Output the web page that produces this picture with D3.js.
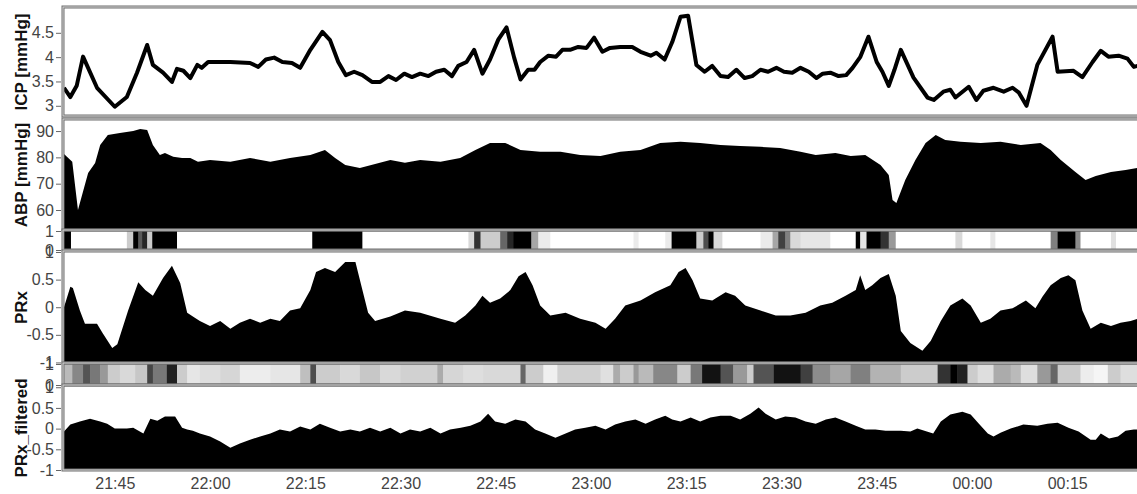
<!DOCTYPE html>
<html lang="en">
<head>
    <meta charset="UTF-8">
    <title>ICP ABP PRx</title>
    <script src="https://cdn.jsdelivr.net/npm/d3@7"></script>
    <style>
        body { margin: 0; background: #fff; }
        text { font-family: "Liberation Sans", Arial, sans-serif; }
    </style>
</head>
<body>
<script type="text/javascript">
    // canvas size
    var width = 1137;
    var height = 494;

    // times are minutes after 21:37
    var icpT = [0, 1.0, 2.0, 3.0, 5.2, 8.0, 9.9, 11.5, 13.1, 14.0, 15.6, 17.0, 17.8, 18.8, 19.9, 21.0, 21.7, 22.7, 26.2, 29.3,
        30.6, 31.8, 33.1, 34.4, 35.9, 37.2, 38.8, 40.7, 41.9, 43.2, 44.4, 45.7, 47.0, 48.5, 49.8, 51.1, 52.3, 53.6, 54.8, 56.1,
        57.4, 58.6, 59.9, 61.1, 62.1, 63.4, 64.6, 65.9, 67.1, 68.4, 69.7, 70.9, 71.9, 73.1, 74.1, 75.0, 76.3, 77.5, 78.5, 79.7,
        81.0, 82.3, 83.5, 84.8, 86.0, 87.6, 89.5, 90.8, 92.4, 93.3, 94.6, 95.8, 97.1, 98.3, 99.6, 100.9, 102.1, 103.4, 104.6, 105.9,
        107.2, 108.4, 109.7, 110.9, 112.2, 113.4, 114.7, 116.0, 117.3, 118.5, 119.5, 120.7, 122.0, 123.2, 124.2, 125.4, 126.7, 128.0, 128.9, 129.9,
        130.8, 131.8, 133.8, 136.0, 137.0, 138.5, 139.6, 140.4, 142.5, 143.7, 144.8, 146.4, 148.0, 149.4, 150.4, 151.6, 153.3, 155.7, 156.5, 159.0,
        160.4, 162.0, 163.3, 164.5, 166.1, 167.5, 168.5, 169.1];
    var icpV = [3.37, 3.18, 3.41, 4.01, 3.37, 2.98, 3.18, 3.68, 4.25, 3.84, 3.68, 3.49, 3.76, 3.72, 3.57, 3.84, 3.78, 3.90, 3.90, 3.88,
        3.80, 3.95, 3.99, 3.90, 3.88, 3.78, 4.15, 4.52, 4.35, 3.90, 3.63, 3.70, 3.63, 3.49, 3.49, 3.61, 3.53, 3.66, 3.59, 3.66,
        3.61, 3.70, 3.74, 3.61, 3.82, 3.90, 4.15, 3.66, 3.95, 4.36, 4.61, 3.99, 3.54, 3.74, 3.74, 3.90, 4.03, 4.01, 4.15, 4.15,
        4.21, 4.19, 4.40, 4.11, 4.19, 4.21, 4.21, 4.11, 4.03, 4.09, 3.95, 4.31, 4.83, 4.85, 3.84, 3.70, 3.82, 3.61, 3.59, 3.74,
        3.57, 3.61, 3.74, 3.70, 3.78, 3.70, 3.68, 3.78, 3.70, 3.57, 3.66, 3.68, 3.61, 3.63, 3.78, 4.00, 4.42, 3.90, 3.70, 3.41,
        3.74, 4.15, 3.58, 3.17, 3.12, 3.29, 3.33, 3.17, 3.39, 3.12, 3.31, 3.37, 3.29, 3.37, 3.27, 3.00, 3.84, 4.42, 3.70, 3.72,
        3.59, 3.90, 4.13, 4.01, 4.03, 3.97, 3.80, 3.82];

    var abpT = [0, 1.3, 2.2, 3.8, 4.9, 5.7, 6.9, 8.8, 10.9, 12.0, 13.1, 14.0, 15.1, 15.9, 17.2, 18.6, 19.9, 21.1, 23.0, 26.2,
        29.3, 32.5, 35.6, 38.8, 41.1, 42.7, 44.3, 46.6, 49.0, 51.4, 53.7, 56.1, 59.3, 62.4, 64.8, 67.1, 69.5, 71.9, 75.0, 78.2,
        81.3, 84.5, 87.6, 90.8, 93.9, 97.1, 100.2, 103.4, 106.5, 109.7, 112.8, 116.0, 118.4, 121.5, 123.9, 126.2, 128.6, 129.9, 130.5, 131.1,
        132.5, 134.1, 135.7, 137.3, 138.8, 141.2, 144.4, 147.5, 150.7, 153.8, 155.4, 157.0, 159.3, 160.9, 162.5, 164.9, 167.2, 169.1];
    var abpV = [81.3, 78.3, 60.0, 74.1, 77.9, 84.7, 88.5, 89.3, 90.0, 90.8, 90.4, 84.7, 80.9, 81.7, 80.2, 79.8, 79.8, 78.3, 79.0, 78.3,
        79.8, 78.3, 79.8, 80.9, 82.8, 79.8, 77.1, 76.0, 77.5, 79.0, 78.0, 79.0, 78.3, 79.8, 82.8, 85.5, 85.5, 82.8, 82.1, 82.1,
        80.9, 80.5, 82.1, 82.8, 85.5, 85.9, 85.5, 84.7, 84.3, 84.0, 83.6, 82.1, 80.9, 81.7, 80.5, 80.9, 77.1, 73.3, 63.8, 62.7,
        71.4, 79.0, 85.5, 88.5, 86.6, 85.9, 85.5, 85.9, 84.7, 85.5, 82.8, 79.0, 74.4, 71.4, 72.9, 74.4, 75.2, 76.0];

    var prxT = [0, 1.0, 1.4, 2.5, 3.3, 4.1, 5.2, 6.1, 7.6, 8.4, 10.1, 11.7, 12.8, 14.0, 15.6, 17.0, 18.3, 19.4, 20.6, 21.4,
        23.0, 24.6, 26.2, 27.7, 29.3, 30.9, 32.5, 34.0, 35.6, 37.2, 38.8, 39.7, 41.1, 42.7, 44.3, 45.9, 47.0, 47.9, 49.0, 51.4,
        53.7, 56.1, 59.3, 61.6, 63.2, 64.8, 65.9, 67.1, 68.7, 70.3, 71.6, 72.7, 73.8, 75.0, 76.6, 79.0, 81.3, 83.7, 85.3, 86.8,
        88.4, 90.8, 93.1, 95.5, 96.8, 97.9, 99.0, 100.2, 102.1, 104.2, 105.7, 107.3, 109.7, 112.1, 114.4, 116.8, 119.1, 121.0, 123.1, 124.7,
        125.4, 126.2, 127.3, 128.6, 129.9, 131.0, 131.8, 133.3, 135.2, 136.5, 138.1, 139.6, 141.5, 142.8, 144.4, 145.9, 147.5, 149.4, 151.5, 153.0,
        154.1, 155.4, 157.0, 158.2, 159.3, 160.4, 161.7, 163.3, 164.9, 166.4, 168.0, 169.1];
    var prxV = [0.0, 0.37, 0.35, -0.06, -0.30, -0.30, -0.30, -0.47, -0.74, -0.67, -0.06, 0.45, 0.31, 0.21, 0.53, 0.75, 0.44, -0.10, -0.19, -0.25,
        -0.34, -0.25, -0.39, -0.28, -0.21, -0.28, -0.21, -0.25, -0.06, -0.02, 0.31, 0.64, 0.71, 0.64, 0.82, 0.82, 0.31, -0.10, -0.25, -0.17,
        -0.06, -0.10, -0.21, -0.28, -0.15, 0.03, 0.21, 0.08, 0.16, 0.31, 0.56, 0.64, 0.40, 0.03, -0.15, -0.10, -0.21, -0.28, -0.39, -0.21,
        0.03, 0.12, 0.27, 0.40, 0.64, 0.71, 0.49, 0.16, 0.12, 0.27, 0.21, 0.03, -0.06, -0.15, -0.15, -0.10, 0.03, 0.08, 0.21, 0.31,
        0.58, 0.31, 0.40, 0.53, 0.60, 0.21, -0.43, -0.65, -0.79, -0.61, -0.25, 0.03, 0.16, 0.03, -0.28, -0.21, -0.06, -0.02, 0.12, -0.02,
        0.19, 0.40, 0.53, 0.58, 0.49, -0.06, -0.39, -0.28, -0.34, -0.28, -0.25, -0.21];

    var prxfT = [0, 1.0, 2.5, 4.1, 5.7, 6.8, 8.0, 9.9, 10.9, 12.5, 13.6, 14.7, 15.9, 17.5, 18.6, 19.4, 20.3, 21.4, 23.0, 24.6,
        26.2, 27.7, 29.3, 30.9, 32.5, 34.0, 35.6, 37.2, 38.8, 40.3, 41.9, 43.5, 45.1, 46.6, 48.2, 49.8, 51.4, 53.0, 54.5, 56.1,
        57.7, 59.3, 60.8, 62.5, 64.0, 65.6, 66.8, 67.9, 69.5, 71.1, 72.7, 74.2, 75.8, 77.4, 79.0, 80.5, 82.1, 83.7, 85.3, 86.8,
        88.4, 90.0, 91.6, 93.1, 94.7, 95.8, 97.1, 98.7, 100.2, 101.8, 103.4, 105.0, 106.5, 108.1, 109.4, 110.5, 112.1, 113.6, 115.2, 116.8,
        118.4, 120.0, 121.5, 123.1, 124.7, 126.2, 127.8, 129.4, 131.8, 133.3, 134.4, 136.9, 138.1, 139.6, 141.5, 142.8, 144.1, 145.5, 146.4, 147.5,
        149.1, 151.1, 153.3, 154.9, 156.5, 158.2, 159.8, 161.7, 162.5, 163.3, 164.6, 166.0, 167.2, 168.5, 169.1];
    var prxfV = [-0.07, 0.10, 0.17, 0.24, 0.17, 0.12, 0.0, 0.0, 0.02, -0.12, 0.24, 0.19, 0.29, 0.29, 0.02, -0.02, -0.05, -0.12, -0.19, -0.31,
        -0.46, -0.36, -0.27, -0.19, -0.12, -0.02, -0.07, 0.05, -0.02, 0.12, 0.02, -0.07, -0.02, -0.07, 0.02, -0.07, 0.02, -0.12, -0.02, -0.07,
        0.02, -0.12, -0.02, 0.02, 0.07, 0.17, 0.36, 0.17, 0.12, 0.22, 0.17, -0.02, -0.12, -0.22, -0.12, -0.02, 0.02, 0.07, -0.02, 0.10,
        0.17, 0.22, 0.12, 0.22, 0.31, 0.22, 0.17, 0.27, 0.17, 0.27, 0.31, 0.31, 0.22, 0.36, 0.51, 0.36, 0.22, 0.29, 0.27, 0.17,
        0.12, 0.22, 0.27, 0.17, 0.07, -0.02, -0.02, -0.05, -0.05, -0.07, 0.0, -0.12, 0.17, 0.34, 0.41, 0.34, 0.12, -0.12, -0.19, -0.10,
        0.0, 0.10, 0.07, 0.12, 0.14, 0.02, -0.07, -0.27, -0.27, -0.12, -0.24, -0.19, -0.05, -0.02, -0.02];

    // colour strips: value holds from its start until the next start
    var band1T = [0, 1.1, 9.9, 10.9, 11.7, 12.3, 13.1, 13.9, 17.8, 39.1, 47.0, 63.7, 64.6, 65.6, 68.7, 69.8, 70.8, 73.6, 74.7, 76.6,
        89.7, 90.5, 94.7, 95.7, 99.6, 100.7, 101.5, 102.3, 103.7, 109.7, 111.6, 112.5, 113.6, 114.4, 116.0, 120.7, 124.7, 125.4, 126.4, 128.6,
        129.9, 131.0, 140.4, 141.5, 145.9, 146.7, 155.4, 156.5, 159.3, 160.1, 164.9, 165.7];
    var band1V = [1.0, 0, 0.2, 1.0, 0.65, 0.85, 0.2, 1.0, 0, 1.0, 0, 0.15, 0.8, 0.2, 0.6, 0.85, 1.0, 0.35, 0.08, 0,
        0.08, 0, 0.08, 1.0, 0.2, 0.7, 1.0, 0.15, 0, 0.08, 0.35, 0.75, 0.5, 0.15, 0.1, 0, 1.0, 0.1, 1.0, 0.8,
        0.4, 0, 0.15, 0, 0.1, 0, 0.5, 1.0, 0.45, 0, 0.12, 0];

    var band2T = [0, 1.3, 3.0, 4.1, 5.7, 6.9, 8.8, 11.2, 13.1, 14.0, 16.2, 17.8, 19.4, 21.4, 24.6, 27.7, 32.5, 37.2, 38.8, 39.7,
        43.5, 46.6, 49.8, 53.0, 58.8, 59.7, 62.9, 66.0, 71.9, 72.7, 75.5, 77.7, 84.5, 86.5, 87.6, 89.7, 90.5, 92.8, 96.6, 98.7,
        100.5, 103.4, 105.4, 107.6, 108.6, 111.8, 116.0, 117.9, 120.7, 123.9, 127.0, 131.8, 137.6, 139.6, 140.7, 142.3, 143.9, 146.4, 149.1, 150.7,
        153.3, 155.4, 156.5, 160.1, 162.2, 164.4, 166.4];
    var band2V = [0.27, 0.47, 0.67, 0.53, 0.4, 0.2, 0.15, 0.22, 0.73, 0.53, 0.87, 0.2, 0.1, 0.13, 0.16, 0.07, 0.1, 0.25, 0.7, 0.2,
        0.15, 0.22, 0.15, 0.18, 0.33, 0.16, 0.13, 0.15, 0.6, 0.2, 0.06, 0.18, 0.12, 0.33, 0.2, 0.4, 0.27, 0.47, 0.2, 0.53,
        0.93, 0.67, 0.4, 0.2, 0.67, 0.93, 0.75, 0.45, 0.35, 0.5, 0.3, 0.2, 0.8, 1.0, 0.87, 0.2, 0.13, 0.33, 0.27, 0.13,
        0.4, 0.6, 0.2, 0.07, 0.04, 0.2, 0.13];

    var icpTicks = [3, 3.5, 4, 4.5];
    var abpTicks = [60, 70, 80, 90];
    var prxTicks = [-1, -0.5, 0, 0.5, 1];
    var bandTicks = [0, 1];

    var tStart = new Date(2000, 0, 1, 21, 37);
    var tEnd = new Date(2000, 0, 1, 21, 37 + 169);
    function toDate(m) { return new Date(tStart.getTime() + m * 60000); }

    var svg = d3.select('body')
            .append('svg')
            .attr('width', width)
            .attr('height', height);

    var left = 64, right = 1137;
    var xScale = d3.scaleTime()
            .domain([tStart, tEnd])
            .range([left, right]);

    // panels: top / bottom in px and value domain
    var panels = [
        {id: 'icp', top: 8, bottom: 116, dom: [2.79, 5.01], ticks: icpTicks, label: 'ICP [mmHg]'},
        {id: 'abp', top: 120, bottom: 230, dom: [52.4, 94.2], ticks: abpTicks, label: 'ABP [mmHg]'},
        {id: 'b1', top: 231, bottom: 250, dom: [0, 1], ticks: bandTicks, label: ''},
        {id: 'prx', top: 252, bottom: 363, dom: [-1.01, 1.0], ticks: prxTicks, label: 'PRx'},
        {id: 'b2', top: 364, bottom: 385, dom: [0, 1], ticks: bandTicks, label: ''},
        {id: 'prxf', top: 386, bottom: 470, dom: [-1.0, 1.03], ticks: prxTicks, label: 'PRx_filtered'}
    ];

    var P = {};
    panels.forEach(function (p) {
        p.y = d3.scaleLinear().domain(p.dom).range([p.bottom, p.top]);
        P[p.id] = p;

        svg.append('clipPath').attr('id', 'clip-' + p.id)
                .append('rect')
                .attr('x', left).attr('y', p.top)
                .attr('width', right - left).attr('height', p.bottom - p.top);
    });

    function plotG(p) {
        return svg.append('g').attr('clip-path', 'url(#clip-' + p.id + ')');
    }

    // ICP line
    var icpData = icpT.map(function (t, i) { return {t: toDate(t), v: icpV[i]}; });
    plotG(P.icp).append('path')
            .datum(icpData)
            .attr('fill', 'none')
            .attr('stroke', '#000')
            .attr('stroke-width', 4)
            .attr('stroke-linejoin', 'round')
            .attr('d', d3.line()
                    .x(function (d) { return xScale(d.t); })
                    .y(function (d) { return P.icp.y(d.v); }));

    // filled areas
    function drawArea(p, ts, vs) {
        var data = ts.map(function (t, i) { return {t: toDate(t), v: vs[i]}; });
        plotG(p).append('path')
                .datum(data)
                .attr('fill', '#000')
                .attr('d', d3.area()
                        .x(function (d) { return xScale(d.t); })
                        .y0(p.bottom)
                        .y1(function (d) { return p.y(d.v); }));
    }
    drawArea(P.abp, abpT, abpV);
    drawArea(P.prx, prxT, prxV);
    drawArea(P.prxf, prxfT, prxfV);

    // grey strips
    var grey = d3.scaleLinear().domain([0, 1]).range(['#ffffff', '#000000']);
    function drawBand(p, ts, vs) {
        var data = ts.map(function (t, i) {
            return {t0: toDate(t), t1: i < ts.length - 1 ? toDate(ts[i + 1]) : tEnd, v: vs[i]};
        });
        plotG(p).selectAll('rect')
                .data(data)
                .enter()
                .append('rect')
                .attr('x', function (d) { return xScale(d.t0); })
                .attr('width', function (d) { return xScale(d.t1) - xScale(d.t0) + 0.5; })
                .attr('y', p.top)
                .attr('height', p.bottom - p.top)
                .attr('fill', function (d) { return grey(d.v); });
    }
    drawBand(P.b1, band1T, band1V);
    drawBand(P.b2, band2T, band2V);

    // frames (double grey line) and y axes
    panels.forEach(function (p) {
        svg.append('rect')
                .attr('x', left - 1).attr('y', p.top - 1)
                .attr('width', right - left + 10).attr('height', p.bottom - p.top + 1)
                .attr('fill', 'none')
                .attr('stroke', '#6e6e6e')
                .attr('stroke-width', 3);
        svg.append('rect')
                .attr('x', left - 1).attr('y', p.top - 1)
                .attr('width', right - left + 10).attr('height', p.bottom - p.top + 1)
                .attr('fill', 'none')
                .attr('stroke', '#d8d8d8')
                .attr('stroke-width', 1);

        var ax = svg.append('g')
                .attr('transform', 'translate(' + (left - 3) + ',0)')
                .call(d3.axisLeft(p.y)
                        .tickValues(p.ticks)
                        .tickSize(5)
                        .tickPadding(2)
                        .tickFormat(function (d) { return String(d); }));
        ax.select('.domain').remove();
        ax.selectAll('line').attr('stroke', '#666');
        ax.selectAll('text')
                .attr('fill', '#444')
                .style('font-size', '16px')
                .style('font-family', '"Liberation Sans", Arial, sans-serif');

        if (p.label) {
            svg.append('text')
                    .attr('transform', 'translate(27,' + ((p.top + p.bottom) / 2) + ') rotate(-90)')
                    .attr('text-anchor', 'middle')
                    .attr('fill', '#111')
                    .style('font-size', '17px')
                    .style('font-weight', 'bold')
                    .text(p.label);
        }
    });

    // x axis
    var xAxis = svg.append('g')
            .attr('transform', 'translate(0,' + P.prxf.bottom + ')')
            .call(d3.axisBottom(xScale)
                    .ticks(d3.timeMinute.every(15))
                    .tickSize(0)
                    .tickPadding(8)
                    .tickFormat(d3.timeFormat('%H:%M')));
    xAxis.select('.domain').remove();
    xAxis.selectAll('text')
            .attr('fill', '#444')
            .style('font-size', '16px')
            .style('font-family', '"Liberation Sans", Arial, sans-serif');
</script>
</body>
</html>
